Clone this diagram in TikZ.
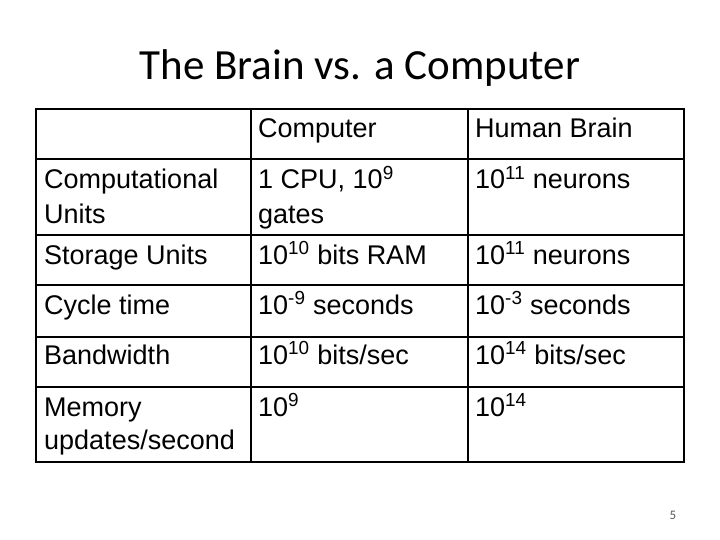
\documentclass[tikz,border=0pt]{standalone}
\usepackage{fontspec}
\setmainfont{Liberation Sans}
\newfontfamily\titlefont{Carlito}
\begin{document}
\begin{tikzpicture}[x=1pt,y=-1pt,
  cell/.style={anchor=base west,inner sep=0pt,font=\fontsize{27}{32}\selectfont},
  grid/.style={line width=1.3pt}]
\useasboundingbox (0,0) rectangle (720,540);
\node[anchor=base,font=\titlefont\fontsize{43}{50}\selectfont] (title) at (360,80) {The Brain vs. a Computer};
\draw[grid] (36,109) rectangle (684,462);
\foreach \y in {159,235,285,337,387} \draw[grid] (36,\y) -- (684,\y);
\draw[grid] (251,109) -- (251,462);
\draw[grid] (468,109) -- (468,462);
\node[cell] (h1) at (258,138) {Computer};
\node[cell] (h2) at (475,138) {Human Brain};
\node[cell] (r1a) at (44,189) {Computational};
\node[cell] (r1b) at (44,223) {Units};
\node[cell] (r1c) at (258,189) {1 CPU, 10\textsuperscript{9}};
\node[cell] (r1d) at (258,223) {gates};
\node[cell] (r1e) at (475,189) {10\textsuperscript{11} neurons};
\node[cell] (r2a) at (44,264) {Storage Units};
\node[cell] (r2b) at (258,264) {10\textsuperscript{10} bits RAM};
\node[cell] (r2c) at (475,264) {10\textsuperscript{11} neurons};
\node[cell] (r3a) at (44,314) {Cycle time};
\node[cell] (r3b) at (258,314) {10\textsuperscript{-9} seconds};
\node[cell] (r3c) at (475,314) {10\textsuperscript{-3} seconds};
\node[cell] (r4a) at (44,364) {Bandwidth};
\node[cell] (r4b) at (258,364) {10\textsuperscript{10} bits/sec};
\node[cell] (r4c) at (475,364) {10\textsuperscript{14} bits/sec};
\node[cell] (r5a) at (44,416) {Memory};
\node[cell] (r5b) at (44,449) {updates/second};
\node[cell] (r5c) at (258,416) {10\textsuperscript{9}};
\node[cell] (r5d) at (475,416) {10\textsuperscript{14}};
\node[anchor=base,font=\titlefont\fontsize{13}{15}\selectfont,text=gray!70!black] (pg) at (673,519) {5};
\end{tikzpicture}
\end{document}
